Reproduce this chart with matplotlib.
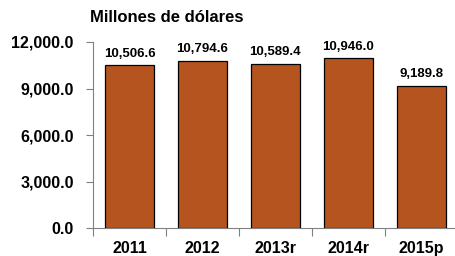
import numpy as np
import matplotlib.pyplot as plt

plt.rcParams['font.family'] = ['Liberation Sans', 'DejaVu Sans']

years = ['2011', '2012', '2013r', '2014r', '2015p']
values = [10506.6, 10794.6, 10589.4, 10946.0, 9189.8]
labels = ['10,506.6', '10,794.6', '10,589.4', '10,946.0', '9,189.8']

fig = plt.figure(figsize=(4.56, 2.56), dpi=100)
ax = fig.add_axes([0.204, 0.109, 0.800, 0.727])

x = np.arange(len(years))
ax.bar(x, values, width=0.67, color='#B5541E', edgecolor='black', linewidth=0.9)

for xi, v, lab in zip(x, values, labels):
    ax.annotate(lab, (xi, v), xytext=(0, 4), textcoords='offset points',
                ha='center', va='bottom', fontsize=9.5, fontweight='bold')

ax.set_xlim(-0.5, len(years) - 0.5)
ax.set_ylim(0, 12000)
ax.set_yticks([0, 3000, 6000, 9000, 12000])
ax.set_yticklabels(['0.0', '3,000.0', '6,000.0', '9,000.0', '12,000.0'],
                   fontsize=11.5, fontweight='bold')

ax.set_xticks(np.arange(-0.5, len(years), 1.0))
ax.set_xticklabels([])
ax.set_xticks(x, minor=True)
ax.set_xticklabels(years, minor=True, fontsize=11.5, fontweight='bold')
ax.tick_params(axis='x', which='major', length=6, color='#808080', direction='out')
ax.tick_params(axis='x', which='minor', length=0, pad=9.5)
ax.tick_params(axis='y', length=5, color='#808080', pad=9)

for s in ['top', 'right']:
    ax.spines[s].set_visible(False)
ax.spines['left'].set_color('#808080')
ax.spines['bottom'].set_color('#808080')

fig.text(0.197, 0.93, 'Millones de dólares', fontsize=12, fontweight='bold',
         ha='left', va='center')

fig.savefig('out.png', dpi=100)
